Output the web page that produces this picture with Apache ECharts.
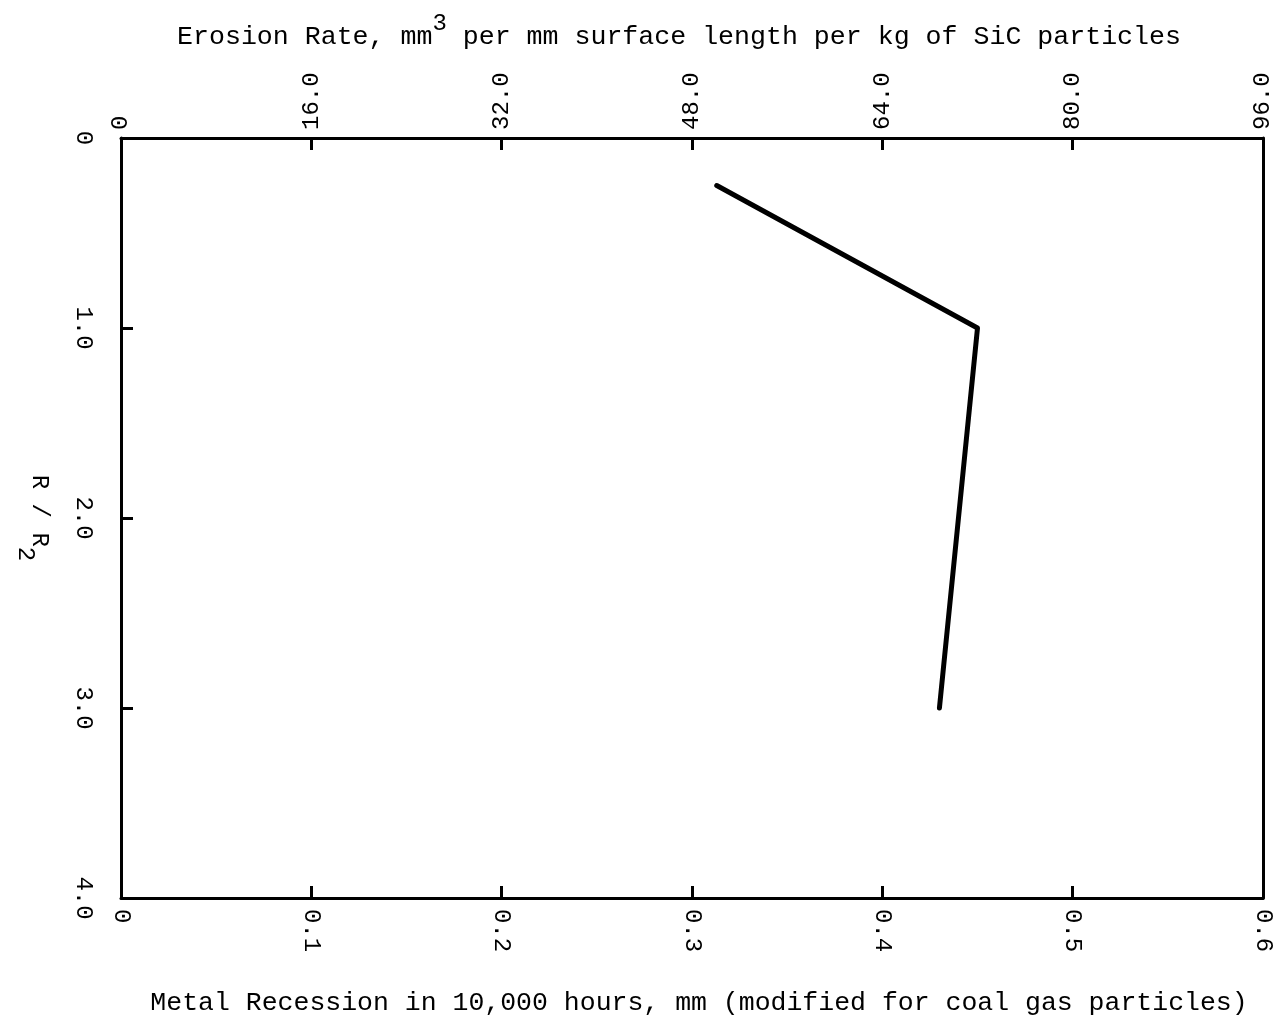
<!DOCTYPE html>
<html>
<head>
<meta charset="utf-8">
<script src="https://cdn.jsdelivr.net/npm/echarts@6/dist/echarts.min.js"></script>
<style>
html,body{margin:0;padding:0;background:#fff;}
#chart{width:1276px;height:1024px;}
</style>
</head>
<body>
<div id="chart"></div>
<script>
// Data
const rOverR2 = [0.25, 1.0, 3.0];
const metalRecession = [0.313, 0.45, 0.43];

// Tick labels
const bottomTickLabels = ['0', '0.1', '0.2', '0.3', '0.4', '0.5', '0.6'];
const topTickLabels = ['0', '16.0', '32.0', '48.0', '64.0', '80.0', '96.0'];
const leftTickLabels = ['0', '1.0', '2.0', '3.0', '4.0'];

const FONT = '"Liberation Mono", "DejaVu Sans Mono", monospace';
const lineSeriesData = rOverR2.map((r, i) => [metalRecession[i], r]);

const axisLineStyle = { color: '#000', width: 3 };
const tickStyle = { show: true, inside: true, length: 12, lineStyle: { color: '#000', width: 3 } };

const chart = echarts.init(document.getElementById('chart'));
chart.setOption({
  backgroundColor: '#fff',
  animation: false,
  grid: { left: 121, right: 13, top: 138, bottom: 126, containLabel: false, outerBoundsMode: 'none' },
  xAxis: [
    {
      type: 'value', position: 'bottom', min: 0, max: 0.6, interval: 0.1,
      axisLine: { show: true, onZero: false, lineStyle: axisLineStyle },
      axisTick: tickStyle,
      splitLine: { show: false },
      axisLabel: {
        rotate: -90, margin: 11, color: '#000', fontFamily: FONT, fontSize: 24,
        formatter: (v, i) => bottomTickLabels[i]
      },
      name: 'Metal Recession in 10,000 hours, mm (modified for coal gas particles)',
      nameLocation: 'middle', nameGap: 91,
      nameTextStyle: { color: '#000', fontFamily: FONT, fontSize: 26.5, padding: [0, 0, 0, 14] }
    },
    {
      type: 'value', position: 'top', min: 0, max: 96, interval: 16,
      axisLine: { show: true, onZero: false, lineStyle: axisLineStyle },
      axisTick: tickStyle,
      splitLine: { show: false },
      axisLabel: {
        rotate: -90, margin: 8, color: '#000', fontFamily: FONT, fontSize: 24,
        formatter: (v, i) => topTickLabels[i]
      },
      name: '{n|Erosion Rate, mm}{sup|3}{n| per mm surface length per kg of SiC particles}',
      nameLocation: 'middle', nameGap: 88,
      nameTextStyle: {
        color: '#000', fontFamily: FONT, fontSize: 26.6, padding: [0, 26, 0, 0],
        rich: {
          n: { color: '#000', fontFamily: FONT, fontSize: 26.6, lineHeight: 38, verticalAlign: 'bottom' },
          sup: { color: '#000', fontFamily: FONT, fontSize: 24, lineHeight: 38, verticalAlign: 'top' }
        }
      }
    }
  ],
  yAxis: [
    {
      type: 'value', position: 'left', inverse: true, min: 0, max: 4, interval: 1,
      axisLine: { show: true, onZero: false, lineStyle: axisLineStyle },
      axisTick: tickStyle,
      splitLine: { show: false },
      axisLabel: {
        rotate: -90, margin: 26, color: '#000', fontFamily: FONT, fontSize: 24,
        formatter: (v, i) => leftTickLabels[i]
      },
      name: '{n|R / R}{sub|2}',
      nameLocation: 'middle', nameRotate: -90, nameGap: 70,
      nameTextStyle: {
        color: '#000', fontFamily: FONT, fontSize: 24,
        rich: {
          n: { color: '#000', fontFamily: FONT, fontSize: 24, lineHeight: 38, verticalAlign: 'top' },
          sub: { color: '#000', fontFamily: FONT, fontSize: 24, lineHeight: 38, verticalAlign: 'bottom' }
        }
      }
    },
    {
      type: 'value', position: 'right', inverse: true, min: 0, max: 4, interval: 1,
      axisLine: { show: true, onZero: false, lineStyle: axisLineStyle },
      axisTick: { show: false },
      axisLabel: { show: false },
      splitLine: { show: false }
    }
  ],
  series: [
    {
      type: 'line',
      xAxisIndex: 0, yAxisIndex: 0,
      data: lineSeriesData,
      showSymbol: false, symbol: 'none',
      lineStyle: { color: '#000', width: 5, cap: 'round', join: 'round' }
    }
  ]
});
</script>
</body>
</html>
